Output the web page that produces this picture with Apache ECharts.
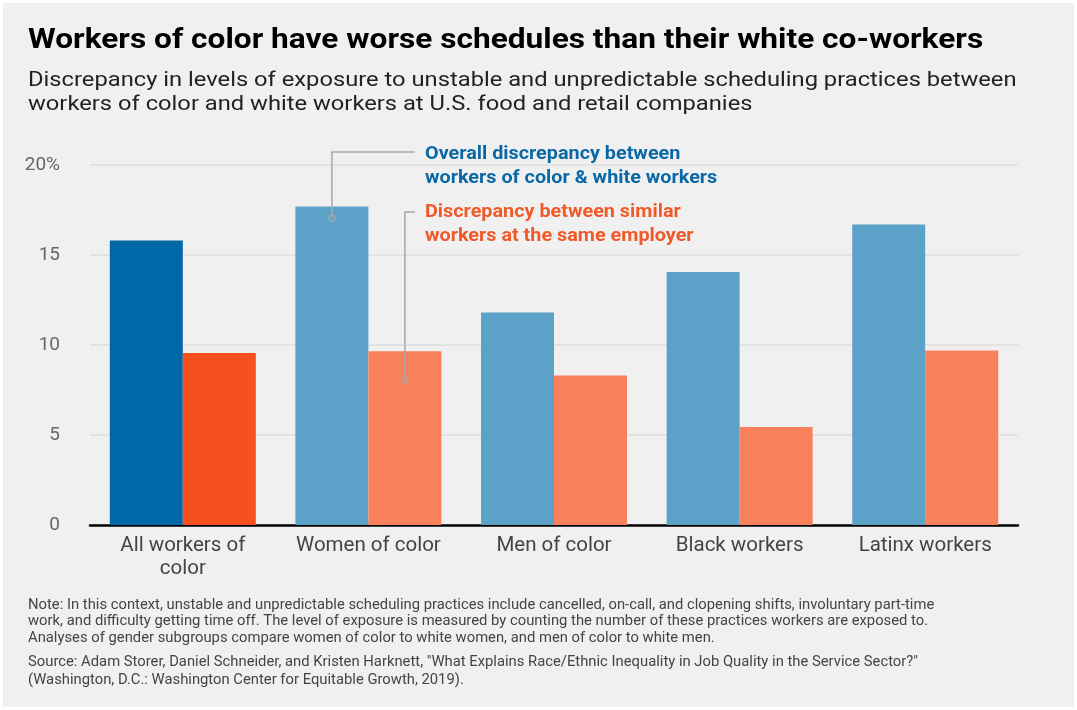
<!DOCTYPE html>
<html>
<head>
<meta charset="utf-8">
<script src="https://cdn.jsdelivr.net/npm/echarts@6/dist/echarts.min.js"></script>
<style>
html,body{margin:0;padding:0;background:#fff;}
#chart{width:1077px;height:710px;}
</style>
</head>
<body>
<div id="chart"></div>
<script>
const categories = ['All workers of\ncolor', 'Women of color', 'Men of color', 'Black workers', 'Latinx workers'];
const overallValues = [15.8, 17.7, 11.8, 14.05, 16.7];
const similarValues = [9.55, 9.65, 8.3, 5.45, 9.7];
const yTicks = [0, 5, 10, 15, 20];

const darkBlue = '#0068a6', lightBlue = '#5ca1c7';
const darkOrange = '#f5501e', lightOrange = '#f8805b';

const chart = echarts.init(document.getElementById('chart'));
const FONT = 'Roboto';

const option = {
  backgroundColor: '#f0f0f0',
  animation: false,
  grid: { left: 90, right: 59, top: 165, bottom: 185 },
  xAxis: {
    type: 'category',
    data: categories,
    axisLine: { lineStyle: { color: '#000', width: 2.5 } },
    axisTick: { show: false },
    axisLabel: { interval: 0, hideOverlap: false, color: '#444', fontFamily: FONT, fontSize: 20.5, lineHeight: 23, margin: 9 }
  },
  yAxis: {
    type: 'value',
    min: yTicks[0], max: yTicks[yTicks.length - 1], interval: 5,
    axisLine: { show: false }, axisTick: { show: false },
    splitLine: { lineStyle: { color: '#dedede', width: 1.5 } },
    axisLabel: {
      color: '#666', fontFamily: FONT, fontSize: 19, margin: 30,
      formatter: v => v === 20 ? '20%' : String(v)
    }
  },
  series: [
    {
      type: 'bar', barWidth: 73, barGap: '0%',
      data: overallValues.map((v, i) => ({ value: v, itemStyle: { color: i === 0 ? darkBlue : lightBlue } }))
    },
    {
      type: 'bar', barWidth: 73, barGap: '0%',
      data: similarValues.map((v, i) => ({ value: v, itemStyle: { color: i === 0 ? darkOrange : lightOrange } }))
    }
  ]
};
chart.setOption(option);

// annotation anchors derived from the axes
const pBlue = chart.convertToPixel({ gridIndex: 0 }, [1, 17.05]);
const pOr = chart.convertToPixel({ gridIndex: 0 }, [1, 8.05]);
const bx = pBlue[0] - 36.5, ox = pOr[0] + 36.5;
const yLine1 = 152, yLine2 = 212, xEnd = 415;

function txt(x, y, sx, style, z) {
  return { type: 'text', x: x, y: y, scaleX: sx, z: z || 10,
    style: Object.assign({ fontFamily: FONT, verticalAlign: 'top', align: 'left' }, style) };
}

chart.setOption({
  graphic: [
    { type: 'rect', shape: { x: 1.5, y: 1.5, width: 1074, height: 707 }, style: { fill: 'none', stroke: '#fff', lineWidth: 3 }, z: 100 },
    txt(28, 27, 1.13, { text: 'Workers of color have worse schedules than their white co-workers', fontWeight: 'bold', fontSize: 28, fill: '#000' }),
    txt(28, 69, 1.13, { text: 'Discrepancy in levels of exposure to unstable and unpredictable scheduling practices between\nworkers of color and white workers at U.S. food and retail companies', fontSize: 21, lineHeight: 24, fill: '#222' }),
    { type: 'polyline', shape: { points: [[bx, pBlue[1]], [bx, yLine1], [xEnd, yLine1]] }, style: { stroke: '#a8a8a8', lineWidth: 1.5, fill: 'none' }, z: 10 },
    { type: 'circle', shape: { cx: bx, cy: pBlue[1], r: 3 }, style: { fill: 'none', stroke: '#a8a8a8', lineWidth: 1.2 }, z: 10 },
    { type: 'polyline', shape: { points: [[ox, pOr[1]], [ox, yLine2], [xEnd, yLine2]] }, style: { stroke: '#a8a8a8', lineWidth: 1.5, fill: 'none' }, z: 10 },
    { type: 'circle', shape: { cx: ox, cy: pOr[1], r: 3 }, style: { fill: 'none', stroke: '#a8a8a8', lineWidth: 1.2 }, z: 10 },
    txt(425, 142, 1.1, { text: 'Overall discrepancy between\nworkers of color & white workers', fontWeight: 'bold', fontSize: 18, lineHeight: 24, fill: '#0a68a6' }),
    txt(425, 200, 1.1, { text: 'Discrepancy between similar\nworkers at the same employer', fontWeight: 'bold', fontSize: 18, lineHeight: 24, fill: '#f05a28' }),
    txt(28, 597, 1.057, { text: 'Note: In this context, unstable and unpredictable scheduling practices include cancelled, on-call, and clopening shifts, involuntary part-time\nwork, and difficulty getting time off. The level of exposure is measured by counting the number of these practices workers are exposed to.\nAnalyses of gender subgroups compare women of color to white women, and men of color to white men.', fontSize: 14, lineHeight: 16.5, fill: '#444' }),
    txt(28, 653, 1.057, { text: 'Source: Adam Storer, Daniel Schneider, and Kristen Harknett, "What Explains Race/Ethnic Inequality in Job Quality in the Service Sector?"\n(Washington, D.C.: Washington Center for Equitable Growth, 2019).', fontSize: 14, lineHeight: 18, fill: '#444' })
  ]
});
</script>
</body>
</html>
